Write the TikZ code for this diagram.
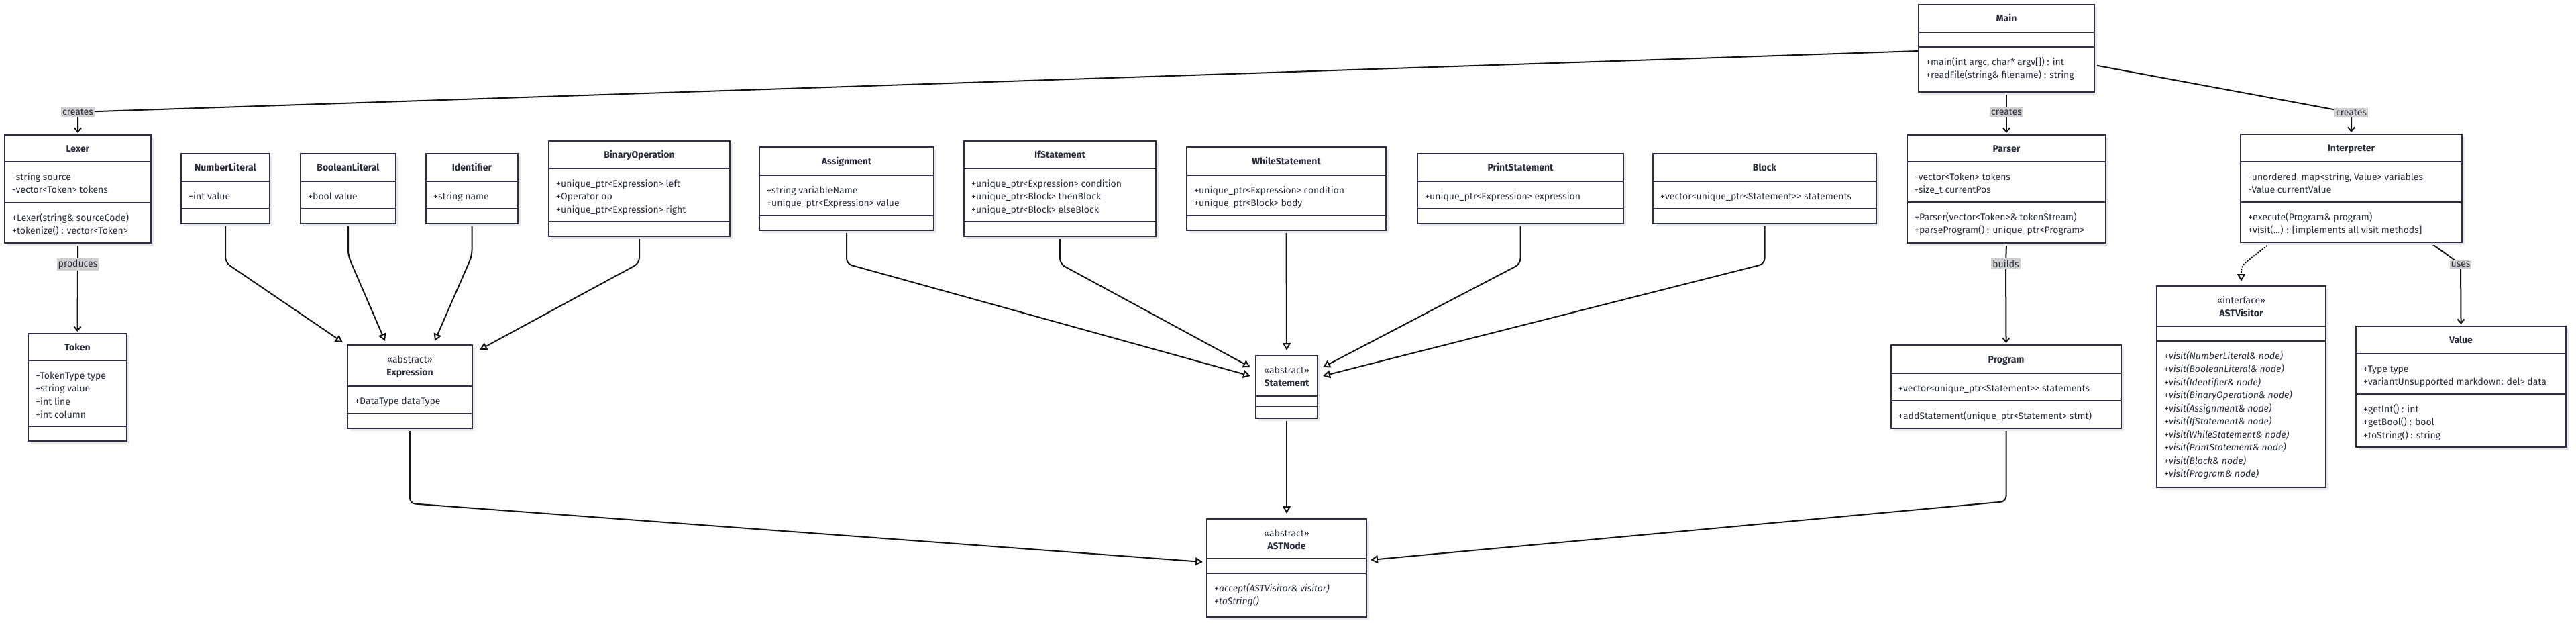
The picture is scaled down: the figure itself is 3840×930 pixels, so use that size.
\documentclass[tikz,border=0pt]{standalone}
\usepackage{fontspec}
\setmainfont{Fira Sans}[Ligatures=TeXOff]
\usetikzlibrary{arrows.meta,calc}
\definecolor{boxc}{HTML}{2E2E44}
\definecolor{txtc}{HTML}{2B2B3C}
\definecolor{linec}{HTML}{141414}
\definecolor{lblbg}{HTML}{D0D0D0}
\definecolor{shadc}{HTML}{E8E8E8}
\pgfdeclarelayer{bg}\pgfdeclarelayer{connlayer}\pgfsetlayers{bg,connlayer,main}
\tikzset{
 classbox/.style={rectangle, draw=boxc, line width=2pt, fill=white, anchor=north west, inner sep=0pt, outer sep=0pt},
 sepl/.style={draw=boxc, line width=2pt},
 memf/.style={font=\fontsize{14}{17}\selectfont, text=txtc, inner sep=0pt, anchor=base west},
 ttlf/.style={font=\fontsize{14}{17}\selectfont\bfseries, text=txtc, inner sep=0pt, anchor=base},
 sterf/.style={font=\fontsize{14}{17}\selectfont, text=txtc, inner sep=0pt, anchor=base},
 elabel/.style={fill=lblbg, text=txtc, font=\fontsize{14}{17}\selectfont, inner xsep=2pt, inner ysep=2.5pt},
 cline/.style={draw=linec, line width=2pt},
 inh/.style={cline, rounded corners=8pt, -{Triangle[fill=white, length=11pt, width=12pt]}},
 assoc/.style={cline, -{Straight Barb[length=6pt, width=10pt]}},
 realz/.style={cline, dash pattern=on 2pt off 2pt, rounded corners=8pt, -{Triangle[fill=white, length=11pt, width=12pt]}},
}
% name, x1, top, x2, header end, attr end, bottom
\newcommand{\umlbox}[7]{%
  \fill[shadc] (#2+4,#3+4) rectangle (#4+4,#7+4);
  \node[classbox, minimum width={#4-#2}, minimum height={#7-#3}] (#1) at (#2,#3) {};
  \draw[sepl] (#2,#5) -- (#4,#5) (#2,#6) -- (#4,#6);
}
\newcommand{\ttl}[3]{\node[ttlf] (#1-t) at ($(#1.north)+(0,#2)$) {#3};}
\newcommand{\ster}[2]{\node[sterf] (#1-s) at ($(#1.north)+(0,26)$) {#2};
  \node[ttlf] (#1-t) at ($(#1.north)+(0,45.5)$) {#1};}
% name, section top offset, font, list
\newcommand{\mem}[4]{%
  \foreach \t [count=\i from 0] in {#4} {\node[memf] (#1-#2-\i) at ($(#1.north west)+(11,#2+27+19.5*\i)$) {#3\t};}
}
\begin{document}
\begin{tikzpicture}[x=1pt,y=-1pt]
\useasboundingbox (0,0) rectangle (3840,930);
\begin{pgfonlayer}{bg}
\fill[white] (0,0) rectangle (3840,930);
\end{pgfonlayer}

% ---- classes ----
\umlbox{Main}{2860}{7}{3122}{48}{70}{137}
\ttl{Main}{25.5}{Main}
\mem{Main}{63}{}{{+main(int argc, char* argv[]) : int},{+readFile(string\& filename) : string}}

\umlbox{Lexer}{7}{201}{225}{241}{302}{362}
\ttl{Lexer}{25.5}{Lexer}
\mem{Lexer}{40}{}{{-string source},{-vector<Token> tokens}}
\mem{Lexer}{101}{}{{+Lexer(string\& sourceCode)},{+tokenize() : vector<Token>}}

\umlbox{Token}{42}{497}{189}{537}{635}{657}
\ttl{Token}{25.5}{Token}
\mem{Token}{40}{}{{+TokenType type},{+string value},{+int line},{+int column}}

\umlbox{NumberLiteral}{270}{229}{402}{270}{311}{333}
\ttl{NumberLiteral}{25.5}{NumberLiteral}
\mem{NumberLiteral}{41}{}{{+int value}}

\umlbox{BooleanLiteral}{448}{229}{590}{270}{311}{333}
\ttl{BooleanLiteral}{25.5}{BooleanLiteral}
\mem{BooleanLiteral}{41}{}{{+bool value}}

\umlbox{Identifier}{635}{229}{772}{270}{311}{333}
\ttl{Identifier}{25.5}{Identifier}
\mem{Identifier}{41}{}{{+string name}}

\umlbox{BinaryOperation}{818}{210}{1088}{251}{330}{352}
\ttl{BinaryOperation}{25.5}{BinaryOperation}
\mem{BinaryOperation}{41}{}{{+unique\_ptr<Expression> left},{+Operator op},{+unique\_ptr<Expression> right}}

\umlbox{Expression}{518}{514}{704}{575}{616}{638}
\ster{Expression}{«abstract»}
\mem{Expression}{61}{}{{+DataType dataType}}

\umlbox{Assignment}{1132}{219}{1392}{261}{321}{343}
\ttl{Assignment}{26}{Assignment}
\mem{Assignment}{42}{}{{+string variableName},{+unique\_ptr<Expression> value}}

\umlbox{IfStatement}{1437}{210}{1723}{251}{330}{352}
\ttl{IfStatement}{25.5}{IfStatement}
\mem{IfStatement}{41}{}{{+unique\_ptr<Expression> condition},{+unique\_ptr<Block> thenBlock},{+unique\_ptr<Block> elseBlock}}

\umlbox{WhileStatement}{1769}{219}{2066}{261}{321}{343}
\ttl{WhileStatement}{26}{WhileStatement}
\mem{WhileStatement}{42}{}{{+unique\_ptr<Expression> condition},{+unique\_ptr<Block> body}}

\umlbox{PrintStatement}{2113}{229}{2420}{270}{311}{333}
\ttl{PrintStatement}{25.5}{PrintStatement}
\mem{PrintStatement}{41}{}{{+unique\_ptr<Expression> expression}}

\umlbox{Block}{2464}{229}{2797}{270}{311}{333}
\ttl{Block}{25.5}{Block}
\mem{Block}{41}{}{{+vector<unique\_ptr<Statement>> statements}}

\umlbox{Parser}{2843}{201}{3139}{241}{301}{362}
\ttl{Parser}{25.5}{Parser}
\mem{Parser}{40}{}{{-vector<Token> tokens},{-size\_t currentPos}}
\mem{Parser}{100}{}{{+Parser(vector<Token>\& tokenStream)},{+parseProgram() : unique\_ptr<Program>}}

\umlbox{Program}{2819}{514}{3162}{556}{597}{638}
\ttl{Program}{26}{Program}
\mem{Program}{42}{}{{+vector<unique\_ptr<Statement>> statements}}
\mem{Program}{83}{}{{+addStatement(unique\_ptr<Statement> stmt)}}

\umlbox{Statement}{1872}{530}{1964}{590}{606}{623}
\ster{Statement}{«abstract»}

\umlbox{ASTNode}{1799}{773}{2037}{832}{854}{919}
\ster{ASTNode}{«abstract»}
\mem{ASTNode}{81}{\itshape}{{+accept(ASTVisitor\& visitor)},{+toString()}}

\umlbox{Interpreter}{3340}{200}{3670}{241}{301}{361}
\ttl{Interpreter}{25.5}{Interpreter}
\mem{Interpreter}{41}{}{{-unordered\_map<string, Value> variables},{-Value currentValue}}
\mem{Interpreter}{101}{}{{+execute(Program\& program)},{+visit({.}{.}{.}) : [implements all visit methods]}}

\umlbox{ASTVisitor}{3215}{426}{3467}{486}{508}{726}
\ster{ASTVisitor}{«interface»}
\mem{ASTVisitor}{82}{\itshape}{{+visit(NumberLiteral\& node)},{+visit(BooleanLiteral\& node)},{+visit(Identifier\& node)},{+visit(BinaryOperation\& node)},{+visit(Assignment\& node)},{+visit(IfStatement\& node)},{+visit(WhileStatement\& node)},{+visit(PrintStatement\& node)},{+visit(Block\& node)},{+visit(Program\& node)}}

\umlbox{Value}{3512}{486}{3825}{527}{587}{666}
\ttl{Value}{25.5}{Value}
\mem{Value}{41}{}{{+Type type},{+variantUnsupported markdown: del> data}}
\mem{Value}{101}{}{{+getInt() : int},{+getBool() : bool},{+toString() : string}}

% ---- edge labels ----
\node[elabel] (lcL) at (116,167) {creates};
\node[elabel] (lpT) at (116,394) {produces};
\node[elabel] (lcP) at (2991,167) {creates};
\node[elabel] (lcI) at (3505,168) {creates};
\node[elabel] (lbP) at (2990,393) {builds};
\node[elabel] (luV) at (3668,394) {uses};

% ---- connectors ----
\begin{pgfonlayer}{connlayer}
\draw[assoc] ($(Main.north west)+(0,69)$) -- (lcL.center) -- ($(Lexer.north)+(0,-3)$);
\draw[assoc] (Lexer.south) -- (lpT.center) -- ($(Token.north)+(0,-3)$);
\draw[assoc] (Main.south) -- (lcP.center) -- ($(Parser.north)+(0,-3)$);
\draw[assoc] ($(Main.north east)+(0,90)$) -- (lcI.center) -- ($(Interpreter.north)+(0,-3)$);
\draw[assoc] (Parser.south) -- (lbP.center) -- ($(Program.north)+(0,-3)$);
\draw[assoc] ($(Interpreter.south east)+(-48,0)$) -- (luV.center) -- ($(Value.north)+(0,-3)$);
\draw[realz] ($(Interpreter.south west)+(46,0)$) -- ($(ASTVisitor.north)+(0,-30)$) -- ($(ASTVisitor.north)+(0,-7)$);

\draw[inh] (NumberLiteral.south) -- ++(0,58) -- ($(Expression.north west)+(-7,-4)$);
\draw[inh] (BooleanLiteral.south) -- ++(0,48) -- ($(Expression.north west)+(56,-6)$);
\draw[inh] (Identifier.south) -- ++(0,48) -- ($(Expression.north west)+(130,-6)$);
\draw[inh] (BinaryOperation.south) -- ++(0,40) -- ($(Expression.north east)+(11,7)$);

\draw[inh] (Assignment.south) -- ++(0,50) -- ($(Statement.north west)+(-8,30)$);
\draw[inh] (IfStatement.south) -- ++(0,41) -- ($(Statement.north west)+(-8,17)$);
\draw[inh] (WhileStatement.south) -- ($(Statement.north)+(0,-8)$);
\draw[inh] (PrintStatement.south) -- ++(0,60) -- ($(Statement.north east)+(8,17)$);
\draw[inh] (Block.south) -- ++(0,60) -- ($(Statement.north east)+(8,30)$);

\draw[inh] (Statement.south) -- ($(ASTNode.north)+(0,-8)$);
\draw[inh] (Expression.south) -- ++(0,112) -- ($(ASTNode.north west)+(-6,64)$);
\draw[inh] (Program.south) -- ++(0,109) -- ($(ASTNode.north east)+(6,61)$);
\end{pgfonlayer}
\end{tikzpicture}
\end{document}
